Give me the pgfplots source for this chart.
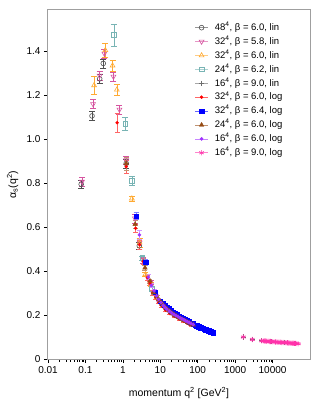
\documentclass[border=0pt]{standalone}
\usepackage{fontspec}
\setmainfont{Liberation Sans}
\usepackage{pgfplots}
\pgfplotsset{compat=1.18}
\definecolor{cA}{RGB}{80,80,80}
\definecolor{cB}{RGB}{214,84,160}
\definecolor{cC}{RGB}{255,170,50}
\definecolor{cD}{RGB}{120,180,180}
\definecolor{cE}{RGB}{110,110,110}
\definecolor{cF}{RGB}{255,0,0}
\definecolor{cG}{RGB}{0,0,255}
\definecolor{cH}{RGB}{150,75,20}
\definecolor{cI}{RGB}{160,50,255}
\definecolor{cJ}{RGB}{255,50,170}
\begin{document}
\begin{tikzpicture}
\begin{axis}[
  scale only axis, width=262pt, height=349pt,
  xmode=log, xmin=0.01, xmax=1e5, ymin=0, ymax=1.588,
  xtick={0.01,0.1,1,10,100,1000,10000},
  xticklabels={0.01,0.1,1,10,100,1000,10000},
  minor xtick={},
  ytick={0,0.2,0.4,0.6,0.8,1.0,1.2,1.4},
  yticklabels={0,0.2,0.4,0.6,0.8,1.0,1.2,1.4},
  /pgf/number format/assume math mode=true,
  tick align=outside, xtick pos=bottom, ytick pos=left,
  major tick length=4pt,
  tick style={black, line width=0.6pt},
  axis line style={gray!75, line width=1pt},
  ticklabel style={font=\fontsize{10}{12}\selectfont},
  label style={font=\fontsize{10.5}{12}\selectfont},
  xlabel={momentum q\textsuperscript{2} [GeV\textsuperscript{2}]},
  ylabel={α\textsubscript{s}(q\textsuperscript{2})},
  xlabel style={at={(axis description cs:0.5,0)}, anchor=base, yshift=-37pt},
  ylabel style={at={(axis description cs:-0.135,0.5)}, anchor=center},
  legend style={draw=none, fill=none, at={(0.548,0.975)}, anchor=north west,
    font=\fontsize{9.5}{11}\selectfont, row sep=0.4pt,
    nodes={inner sep=1.5pt, text height=8pt, text depth=2.5pt},
    /tikz/every odd column/.append style={column sep=5pt}},
  legend cell align=left,
  legend image code/.code={
    \draw[#1, mark=none, line width=0.6pt, opacity=0.6] (0pt,0pt) -- (13pt,0pt);
    \draw[#1] plot coordinates {(6.5pt,0pt)};},
  error bars/y dir=both, error bars/y explicit,
]
\coordinate (ll) at (rel axis cs:0,0);
\coordinate (ur) at (rel axis cs:1,1);
% 48^4 beta 6.0 lin
\addplot[only marks, color=cA, mark=o, mark size=2.4pt, mark options={line width=0.6pt},
  error bars/error bar style={cA, line width=0.6pt}, error bars/error mark options={rotate=90, mark size=3pt, cA}]
  coordinates {(0.077,0.795) +- (0,0.02) (0.15,1.106) +- (0,0.02) (0.24,1.275) +- (0,0.02)
   (0.30,1.345) +- (0,0.02) (1.23,0.89) +- (0,0.02) (2.75,0.515) +- (0,0.015)};
\addlegendentry{48\textsuperscript{4}, β = 6.0, lin}
% 32^4 beta 5.8 lin
\addplot[only marks, color=cB, mark=triangle, mark size=2.8pt, mark options={rotate=180, line width=0.6pt},
  error bars/error bar style={cB, line width=0.6pt}, error bars/error mark options={rotate=90, mark size=3pt, cB}]
  coordinates {(0.081,0.807) +- (0,0.02) (0.16,1.16) +- (0,0.02) (0.24,1.29) +- (0,0.02)
   (0.32,1.39) +- (0,0.02) (0.56,1.285) +- (0,0.02) (0.81,1.135) +- (0,0.02)
   (1.23,0.905) +- (0,0.02) (2.1,0.64) +- (0,0.02) (2.8,0.53) +- (0,0.02)
   (3.4,0.45) +- (0,0.015) (5.5,0.35) +- (0,0.01)};
\addlegendentry{32\textsuperscript{4}, β = 5.8, lin}
% 32^4 beta 6.0 lin
\addplot[only marks, color=cC, mark=triangle, mark size=2.8pt, mark options={line width=0.6pt},
  error bars/error bar style={cC, line width=0.6pt}, error bars/error mark options={rotate=90, mark size=3pt, cC}]
  coordinates {(0.17,1.245) +- (0,0.04) (0.34,1.405) +- (0,0.03) (0.53,1.335) +- (0,0.025)
   (0.69,1.225) +- (0,0.025) (1.74,0.73) +- (0,0.01) (2.8,0.53) +- (0,0.02)
   (4.0,0.385) +- (0,0.01) (5.5,0.34) +- (0,0.01) (8.0,0.28) +- (0,0.01)};
\addlegendentry{32\textsuperscript{4}, β = 6.0, lin}
% 24^4 beta 6.2 lin
\addplot[only marks, color=cD, mark=square, mark size=2.3pt, mark options={line width=0.6pt},
  error bars/error bar style={cD, line width=0.6pt}, error bars/error mark options={rotate=90, mark size=3pt, cD}]
  coordinates {(0.575,1.475) +- (0,0.05) (1.17,1.07) +- (0,0.03) (1.74,0.81) +- (0,0.02)
   (3.3,0.46) +- (0,0.01) (6.0,0.32) +- (0,0.01)};
\addlegendentry{24\textsuperscript{4}, β = 6.2, lin}
% 16^4 beta 9.0 lin
\addplot[only marks, color=cE, mark=+, mark size=2.6pt, mark options={line width=0.6pt},
  error bars/error bar style={cE, line width=0.6pt}, error bars/error mark options={rotate=90, mark size=2pt, cE}]
  coordinates {(1650,0.100) +- (0,0.003) (2870,0.089) +- (0,0.003) (5100,0.083) +- (0,0.003)
   (9500,0.079) +- (0,0.002) (20000,0.075) +- (0,0.002) (41000,0.071) +- (0,0.002)};
\addlegendentry{16\textsuperscript{4}, β = 9.0, lin}
% 32^4 beta 6.0 log
\addplot[only marks, color=cF, mark=*, mark size=1.5pt,
  error bars/error bar style={cF!60, line width=0.6pt}, error bars/error mark options={rotate=90, mark size=2.5pt, cF!60}]
  coordinates {(0.70,1.075) +- (0,0.045) (1.23,0.875) +- (0,0.03) (2.2,0.595) +- (0,0.02)
   (2.8,0.52) +- (0,0.02) (3.5,0.445) +- (0,0.015) (4.5,0.37) +- (0,0.01) (5.3,0.345) +- (0,0.01)
   (6.2,0.302) +- (0,0.01) (7.5,0.282) +- (0,0.008) (9,0.258) +- (0,0.006) (11,0.242) +- (0,0.005)
   (14,0.222) +- (0,0.005) (18,0.207) +- (0,0.004) (24,0.194) +- (0,0.004) (32,0.182) +- (0,0.004)
   (43,0.171) +- (0,0.003) (58,0.160) +- (0,0.003) (70,0.153) +- (0,0.003)};
\addlegendentry{32\textsuperscript{4}, β = 6.0, log}
% 32^4 beta 6.4 log
\addplot[only marks, color=cG, mark=square*, mark size=2.2pt,
  error bars/error bar style={cG!50, line width=0.6pt}, error bars/error mark options={rotate=90, mark size=2.5pt, cG!50}]
  coordinates {(2.26,0.651) +- (0,0.015) (4.1,0.44) +- (0,0.012) (7.3,0.303) +- (0,0.008)
   (10,0.263) +- (0,0.006) (11.5,0.253) +- (0,0.005) (13,0.246) +- (0,0.005) (15,0.236) +- (0,0.005)
   (17,0.229) +- (0,0.004) (19.5,0.220) +- (0,0.004) (22,0.213) +- (0,0.004) (25,0.206) +- (0,0.004)
   (28,0.201) +- (0,0.004) (32,0.195) +- (0,0.003) (36,0.190) +- (0,0.003) (41,0.185) +- (0,0.003)
   (46,0.180) +- (0,0.003) (53,0.174) +- (0,0.003) (60,0.169) +- (0,0.003) (67,0.164) +- (0,0.003)
   (75,0.160) +- (0,0.003) (85,0.155) +- (0,0.003) (95,0.151) +- (0,0.003) (107,0.147) +- (0,0.003)
   (120,0.143) +- (0,0.003) (135,0.139) +- (0,0.003) (150,0.136) +- (0,0.003) (165,0.133) +- (0,0.003)
   (180,0.130) +- (0,0.003) (195,0.128) +- (0,0.003) (210,0.126) +- (0,0.003) (225,0.124) +- (0,0.003)
   (240,0.122) +- (0,0.003) (257,0.120) +- (0,0.003)};
\addlegendentry{32\textsuperscript{4}, β = 6.4, log}
% 24^4 beta 6.0 log
\addplot[only marks, color=cH, mark=triangle*, mark size=2.6pt,
  error bars/error bar style={cH!60, line width=0.6pt}, error bars/error mark options={rotate=90, mark size=2.5pt, cH!60}]
  coordinates {(1.23,0.89) +- (0,0.03) (2.13,0.613) +- (0,0.02) (3.9,0.415) +- (0,0.012)
   (5.3,0.355) +- (0,0.01) (6.6,0.302) +- (0,0.008) (8,0.284) +- (0,0.007) (9,0.272) +- (0,0.006)
   (10,0.262) +- (0,0.006) (11,0.253) +- (0,0.005) (12,0.245) +- (0,0.005) (13.5,0.236) +- (0,0.005)
   (15,0.228) +- (0,0.005) (17,0.220) +- (0,0.004) (19,0.213) +- (0,0.004) (21.5,0.206) +- (0,0.004)
   (24,0.200) +- (0,0.004) (27,0.195) +- (0,0.004) (30,0.190) +- (0,0.003) (34,0.185) +- (0,0.003)
   (38,0.181) +- (0,0.003) (43,0.176) +- (0,0.003) (48,0.172) +- (0,0.003) (54,0.167) +- (0,0.003)
   (60,0.163) +- (0,0.003) (67,0.159) +- (0,0.003) (76,0.155) +- (0,0.003)};
\addlegendentry{24\textsuperscript{4}, β = 6.0, log}
% 16^4 beta 6.0 log
\addplot[only marks, color=cI, mark=*, mark size=1.6pt,
  error bars/error bar style={cI!50, line width=0.6pt}, error bars/error mark options={rotate=90, mark size=2.5pt, cI!50}]
  coordinates {(2.77,0.565) +- (0,0.02) (4.8,0.373) +- (0,0.012) (5.8,0.335) +- (0,0.01)
   (6.8,0.310) +- (0,0.008) (8,0.287) +- (0,0.007) (9,0.271) +- (0,0.006) (10.5,0.257) +- (0,0.006)
   (12,0.244) +- (0,0.005) (13.5,0.235) +- (0,0.005) (15,0.227) +- (0,0.005) (17.5,0.218) +- (0,0.004)
   (20,0.210) +- (0,0.004) (23,0.203) +- (0,0.004) (26,0.198) +- (0,0.004) (29.5,0.193) +- (0,0.004)
   (33,0.188) +- (0,0.003) (37.5,0.183) +- (0,0.003) (42,0.179) +- (0,0.003) (47,0.174) +- (0,0.003)
   (53,0.170) +- (0,0.003) (59,0.166) +- (0,0.003) (66,0.162) +- (0,0.003) (76,0.157) +- (0,0.003)};
\addlegendentry{16\textsuperscript{4}, β = 6.0, log}
% 16^4 beta 9.0 log
\addplot[only marks, color=cJ, mark=asterisk, mark size=2.6pt, mark options={line width=0.6pt},
  error bars/error bar style={cJ!50, line width=0.6pt}, error bars/error mark options={rotate=90, mark size=2.5pt, cJ!50}]
  coordinates {(1650,0.100) +- (0,0.003) (2870,0.089) +- (0,0.003) (5100,0.083) +- (0,0.003)
   (5600,0.0825) +- (0,0.003) (6000,0.082) +- (0,0.003) (6500,0.0815) +- (0,0.003) (7000,0.081) +- (0,0.003)
   (7600,0.0805) +- (0,0.002) (8200,0.080) +- (0,0.002) (8800,0.0795) +- (0,0.002) (9500,0.079) +- (0,0.002)
   (10200,0.0785) +- (0,0.002) (11000,0.078) +- (0,0.002) (12000,0.0775) +- (0,0.002) (13000,0.077) +- (0,0.002)
   (14000,0.0765) +- (0,0.002) (15000,0.0762) +- (0,0.002) (16200,0.0758) +- (0,0.002) (17500,0.0755) +- (0,0.002)
   (18800,0.0752) +- (0,0.002) (20000,0.075) +- (0,0.002) (21500,0.0745) +- (0,0.002) (23000,0.074) +- (0,0.002)
   (25000,0.0735) +- (0,0.002) (27000,0.073) +- (0,0.002) (29000,0.0725) +- (0,0.002) (31000,0.072) +- (0,0.002)
   (33500,0.0718) +- (0,0.002) (36000,0.0715) +- (0,0.002) (38500,0.0712) +- (0,0.002) (41000,0.071) +- (0,0.002)
   (44500,0.0702) +- (0,0.002) (48000,0.0695) +- (0,0.002)};
\addlegendentry{16\textsuperscript{4}, β = 9.0, log}
\end{axis}
\pgfresetboundingbox
\path ([shift={(-48pt,-41pt)}]ll) rectangle ([shift={(10pt,10pt)}]ur);
\end{tikzpicture}
\end{document}
